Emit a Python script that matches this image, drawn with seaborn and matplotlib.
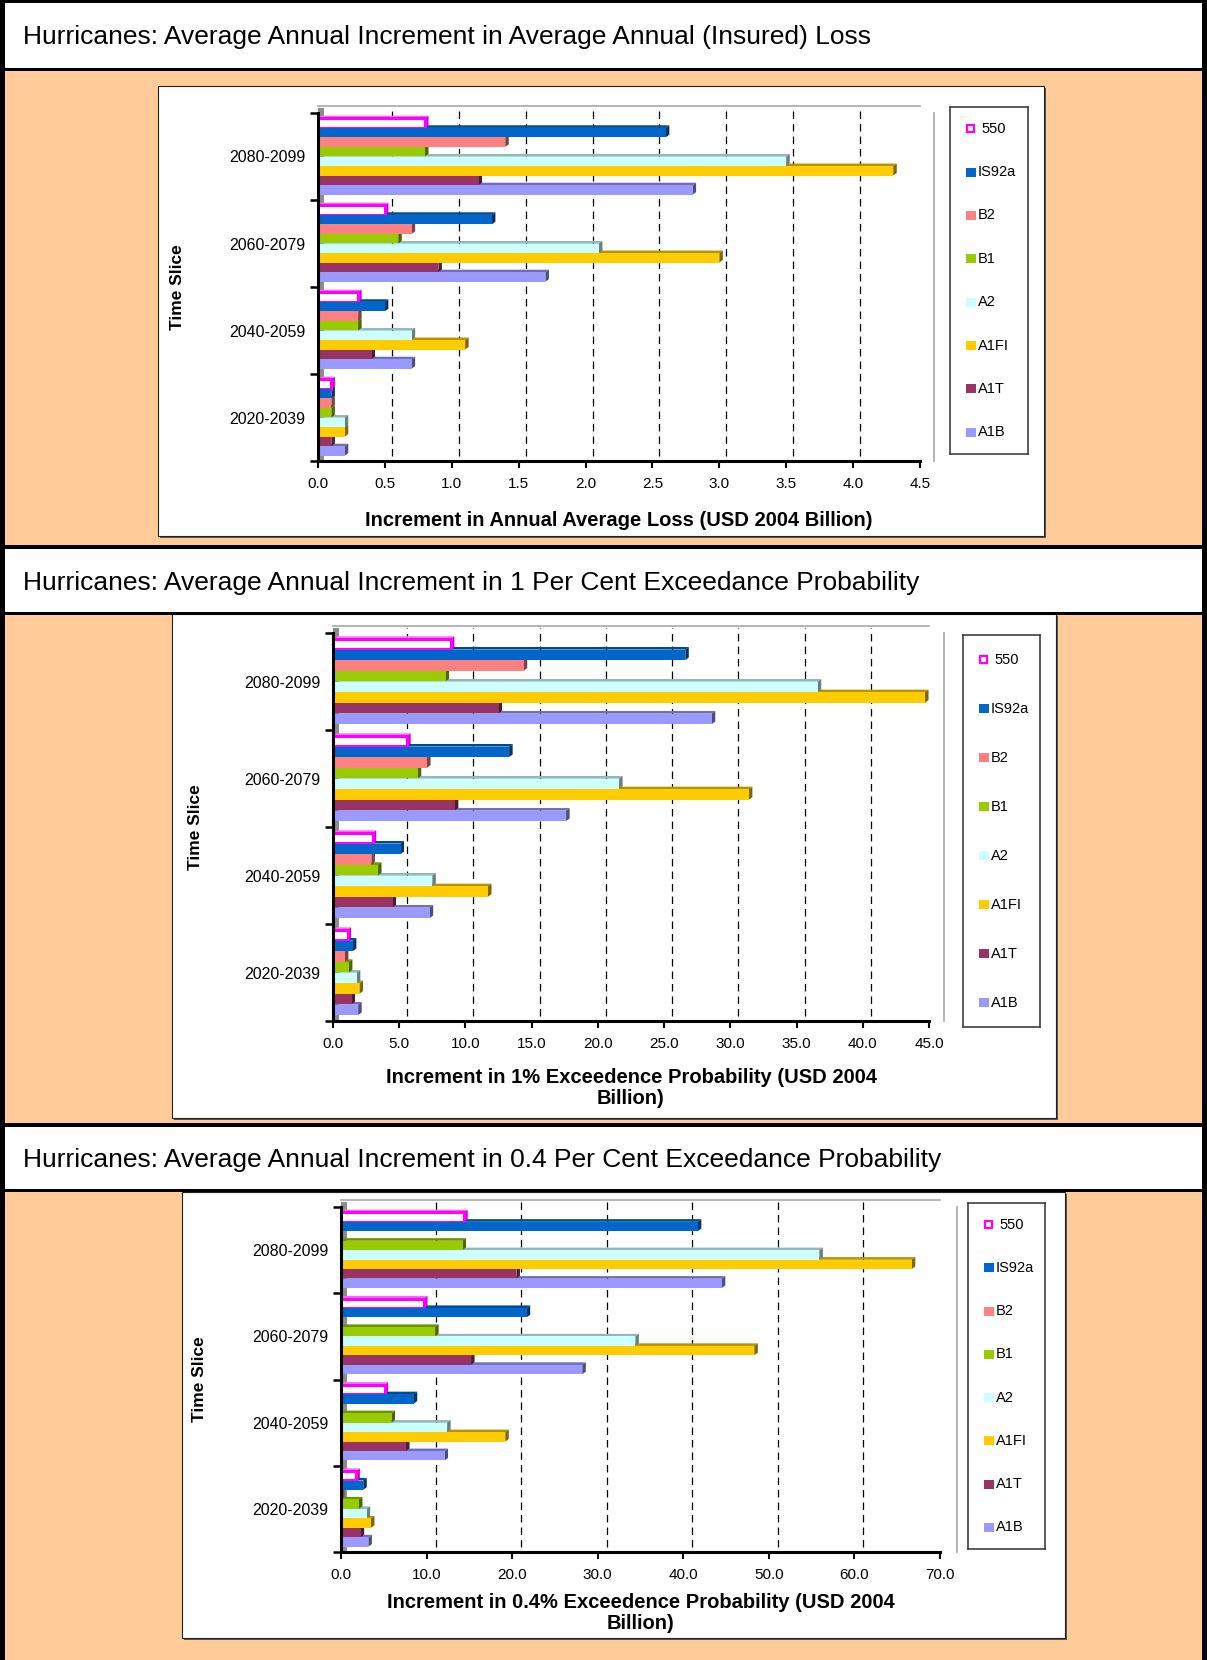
import numpy as np
import pandas as pd
import matplotlib
matplotlib.use("Agg")
import matplotlib.pyplot as plt
import seaborn as sns
from matplotlib.patches import Rectangle, Polygon
from matplotlib.transforms import IdentityTransform, ScaledTranslation

# ---------------------------------------------------------------- data
time_slices = ["2080-2099", "2060-2079", "2040-2059", "2020-2039"]
scenarios = ["550", "IS92a", "B2", "B1", "A2", "A1FI", "A1T", "A1B"]
scenario_colors = ["#FFFFFF", "#0066CC", "#FF8080", "#99CC00",
                   "#CCFFFF", "#FFCC00", "#993366", "#9999FF"]

# Increment in annual average loss (USD 2004 billion), per time slice
aal_550 = [0.8, 0.5, 0.3, 0.1]
aal_is92a = [2.6, 1.3, 0.5, 0.1]
aal_b2 = [1.4, 0.7, 0.3, 0.1]
aal_b1 = [0.8, 0.6, 0.3, 0.1]
aal_a2 = [3.5, 2.1, 0.7, 0.2]
aal_a1fi = [4.3, 3.0, 1.1, 0.2]
aal_a1t = [1.2, 0.9, 0.4, 0.1]
aal_a1b = [2.8, 1.7, 0.7, 0.2]

# Increment in 1% exceedance probability loss (USD 2004 billion)
ep1_550 = [8.9, 5.6, 3.0, 1.1]
ep1_is92a = [26.6, 13.3, 5.1, 1.5]
ep1_b2 = [14.4, 7.1, 2.9, 0.9]
ep1_b1 = [8.5, 6.4, 3.4, 1.2]
ep1_a2 = [36.6, 21.6, 7.5, 1.8]
ep1_a1fi = [44.7, 31.4, 11.7, 2.0]
ep1_a1t = [12.5, 9.2, 4.5, 1.4]
ep1_a1b = [28.6, 17.6, 7.3, 1.9]

# Increment in 0.4% exceedance probability loss (USD 2004 billion)
ep04_550 = [14.4, 9.7, 5.1, 1.8]
ep04_is92a = [41.7, 21.7, 8.5, 2.6]
ep04_b2 = [np.nan, np.nan, np.nan, 0.0]
ep04_b1 = [14.2, 11.0, 5.9, 2.1]
ep04_a2 = [55.9, 34.4, 12.4, 3.0]
ep04_a1fi = [66.7, 48.3, 19.2, 3.5]
ep04_a1t = [20.5, 15.2, 7.6, 2.3]
ep04_a1b = [44.5, 28.2, 12.1, 3.2]

titles = [
    "Hurricanes: Average Annual Increment in Average Annual (Insured) Loss",
    "Hurricanes: Average Annual Increment in 1 Per Cent Exceedance Probability",
    "Hurricanes: Average Annual Increment in 0.4 Per Cent Exceedance Probability",
]
xlabels = [
    "Increment in Annual Average Loss (USD 2004 Billion)",
    "Increment in 1% Exceedence Probability (USD 2004\nBillion)",
    "Increment in 0.4% Exceedence Probability (USD 2004\nBillion)",
]
ylabel = "Time Slice"
x_max = [4.5, 45.0, 70.0]
x_step = [0.5, 5.0, 10.0]

series_sets = [
    [aal_550, aal_is92a, aal_b2, aal_b1, aal_a2, aal_a1fi, aal_a1t, aal_a1b],
    [ep1_550, ep1_is92a, ep1_b2, ep1_b1, ep1_a2, ep1_a1fi, ep1_a1t, ep1_a1b],
    [ep04_550, ep04_is92a, ep04_b2, ep04_b1, ep04_a2, ep04_a1fi, ep04_a1t, ep04_a1b],
]

# ---------------------------------------------------------------- layout (pixels, y from top)
W, H, DPI = 1207, 1660, 100
ORANGE = "#FFCC99"
MAGENTA = "#FF00FF"

panels = [
    dict(box=(158, 86, 1044, 536), ax=(318, 113, 920, 461), leg=(950, 107, 1028, 454),
         ylab_x=177, xlab_y=521, title_y=37, depth=(7, 5)),
    dict(box=(172, 614, 1056, 1118), ax=(333, 633, 929, 1021), leg=(963, 635, 1040, 1027),
         ylab_x=195, xlab_y=1088, title_y=583, depth=(8, 5)),
    dict(box=(182, 1192, 1065, 1638), ax=(341, 1207, 940, 1552), leg=(968, 1203, 1045, 1549),
         ylab_x=200, xlab_y=1613, title_y=1160, depth=(9, 5)),
]

sns.set_theme(style="white")
plt.rcParams["font.family"] = ["Liberation Sans", "DejaVu Sans"]

fig = plt.figure(figsize=(W / DPI, H / DPI), dpi=DPI)
fig.patch.set_facecolor(ORANGE)


def fig_rect(x0, y0, x1, y1, z=-5, **kw):
    r = Rectangle((x0 / W, 1 - y1 / H), (x1 - x0) / W, (y1 - y0) / H,
                  transform=fig.transFigure, zorder=z, **kw)
    fig.add_artist(r)


def fig_axes(x0, y0, x1, y1):
    return fig.add_axes([x0 / W, 1 - y1 / H, (x1 - x0) / W, (y1 - y0) / H])


def shade(hex_color, k):
    rgb = np.array(matplotlib.colors.to_rgb(hex_color))
    return tuple(rgb * k)


# title bands and black frame lines
for y0, y1 in [(0, 68), (549, 612), (1127, 1189)]:
    fig_rect(0, y0, W, y1, z=-8, facecolor="white", edgecolor="none")
for y0, y1 in [(0, 3), (68, 71), (545, 549), (612, 615), (1123, 1127), (1189, 1192)]:
    fig_rect(0, y0, W, y1, z=-3, facecolor="black", edgecolor="none")
fig_rect(0, 0, 5, H, z=-3, facecolor="black", edgecolor="none")
fig_rect(1202, 0, W, H, z=-3, facecolor="black", edgecolor="none")

palette = dict(zip(scenarios, scenario_colors))

for i, p in enumerate(panels):
    # panel title
    fig.text(23 / W, 1 - p["title_y"] / H, titles[i], fontsize=19,
             ha="left", va="center", color="black")

    # white chart box with a soft drop shadow
    bx0, by0, bx1, by1 = p["box"]
    fig_rect(bx0 + 2, by0 + 2, bx1 + 2, by1 + 2, z=-7, facecolor="#555555", edgecolor="none")
    fig_rect(bx0, by0, bx1, by1, z=-6, facecolor="white", edgecolor="#222222", linewidth=0.8)

    # long-form table for seaborn
    wide = pd.DataFrame(dict(zip(scenarios, series_sets[i])), index=time_slices)
    long = (wide.reset_index(names="slice")
                .melt(id_vars="slice", var_name="scenario", value_name="value")
                .dropna())

    ax = fig_axes(*p["ax"])
    ax.set_facecolor("white")
    sns.barplot(data=long, x="value", y="slice", hue="scenario",
                order=time_slices, hue_order=scenarios, palette=palette,
                orient="h", width=0.88, gap=0.02, saturation=1, linewidth=0,
                errorbar=None, legend=False, ax=ax)
    ax.set_xlim(0, x_max[i])
    ax.set_ylim(len(time_slices) - 0.5, -0.5)

    dx, dy = p["depth"]
    fx, fy = 3.5, 2.6  # depth of the bar side/top faces, px

    # 3-D faces of each bar (top and right side), computed from the bar geometry
    for name, cont in zip(scenarios, ax.containers):
        col = palette[name]
        if name == "550":
            top_c, side_c = "#FF66FF", "#D000D0"
        else:
            top_c, side_c = shade(col, 0.72), shade(col, 0.5)
        for rect in cont:
            w = rect.get_width()
            if not np.isfinite(w):
                continue
            rect.set_zorder(3)
            if name == "550":
                rect.set_edgecolor(MAGENTA)
                rect.set_linewidth(2.2)
            x0d = rect.get_x()
            (xa, ya), (xb, yb) = ax.transData.transform(
                [(x0d, rect.get_y()), (x0d + w, rect.get_y() + rect.get_height())])
            xl, xr = min(xa, xb), max(xa, xb)
            ylo, yhi = min(ya, yb), max(ya, yb)
            top = Polygon([(xl, yhi), (xl + fx, yhi + fy), (xr + fx, yhi + fy), (xr, yhi)],
                          closed=True, transform=IdentityTransform(),
                          facecolor=top_c, edgecolor="none", zorder=2.5)
            side = Polygon([(xr, ylo), (xr + fx, ylo + fy), (xr + fx, yhi + fy), (xr, yhi)],
                           closed=True, transform=IdentityTransform(),
                           facecolor=side_c, edgecolor="none", zorder=2.6)
            ax.add_artist(top)
            ax.add_artist(side)

    # grey side wall along the value axis origin
    (lx, by), (_, ty) = ax.transAxes.transform([(0, 0), (0, 1)])
    wall = Rectangle((lx, by), 6, ty - by + dy, transform=IdentityTransform(),
                     facecolor="#8C8C8C", edgecolor="none", zorder=0.8, clip_on=False)
    ax.add_artist(wall)

    # ticks on the value axis
    ticks = np.arange(0, x_max[i] + x_step[i] / 2, x_step[i])
    ax.set_xticks(ticks)
    ax.set_xticklabels([f"{t:.1f}" for t in ticks])
    ax.tick_params(axis="x", which="major", direction="out", length=5, width=1.5,
                   color="black", labelsize=11, labelcolor="black", pad=6.5, bottom=True)

    # dashed gridlines on the back wall
    grid_tr = ax.get_xaxis_transform() + ScaledTranslation(dx / DPI, dy / DPI, fig.dpi_scale_trans)
    for t in ticks[1:-1]:
        ax.plot([t, t], [0, 1], transform=grid_tr, color="black", linewidth=0.9,
                linestyle=(0, (6, 4)), zorder=0.5, clip_on=False)

    # category axis: labels centred, tick marks on the band boundaries
    ax.set_yticks(range(len(time_slices)), labels=time_slices)
    ax.set_yticks(np.arange(-0.5, len(time_slices)), minor=True)
    ax.tick_params(axis="y", which="major", length=0, pad=9, labelsize=11.5,
                   labelcolor="black", left=True)
    ax.tick_params(axis="y", which="minor", direction="out", length=6, width=1.8,
                   color="black", left=True)

    for side_name in ["left", "bottom"]:
        ax.spines[side_name].set_color("black")
        ax.spines[side_name].set_linewidth(2.2)
        ax.spines[side_name].set_zorder(4)
    ax.spines["top"].set_color("#A8A8A8")
    ax.spines["top"].set_linewidth(1.2)
    ax.spines["top"].set_position(("outward", dy))
    ax.spines["right"].set_color("#A8A8A8")
    ax.spines["right"].set_linewidth(1.2)
    ax.spines["right"].set_position(("outward", dx + 3))

    ax.set_xlabel(xlabels[i], fontsize=14.5, fontweight="bold", linespacing=1.1, color="black")
    ax.xaxis.set_label_coords(((p["ax"][0] + p["ax"][2]) / 2) / W, 1 - p["xlab_y"] / H,
                              transform=fig.transFigure)
    ax.xaxis.label.set_va("center")
    ax.set_ylabel(ylabel, fontsize=12.5, fontweight="bold", color="black")
    ax.yaxis.set_label_coords(p["ylab_x"] / W, 1 - ((p["ax"][1] + p["ax"][3]) / 2) / H,
                              transform=fig.transFigure)
    ax.yaxis.label.set_va("center")

    # legend box
    lx0, ly0, lx1, ly1 = p["leg"]
    lax = fig_axes(lx0, ly0, lx1, ly1)
    lw_, lh_ = lx1 - lx0, ly1 - ly0
    lax.set_xlim(0, lw_)
    lax.set_ylim(lh_, 0)
    lax.set_xticks([])
    lax.set_yticks([])
    lax.set_facecolor("white")
    for s in lax.spines.values():
        s.set_visible(True)
        s.set_color("#404040")
        s.set_linewidth(1.2)
    for k, (name, col) in enumerate(zip(scenarios, scenario_colors)):
        cy = (k + 0.5) / len(scenarios) * lh_
        if name == "550":
            lax.add_patch(Rectangle((16.5, cy - 3.5), 7, 7, facecolor="white",
                                    edgecolor=MAGENTA, linewidth=1.6))
            lax.text(31, cy, name, fontsize=10.5, va="center", ha="left", color="black")
        else:
            lax.add_patch(Rectangle((16, cy - 4.5), 10, 9, facecolor=col, edgecolor="none"))
            lax.text(28, cy, name, fontsize=10.5, va="center", ha="left", color="black")

fig.savefig("out.png", dpi=DPI, facecolor=fig.get_facecolor())
